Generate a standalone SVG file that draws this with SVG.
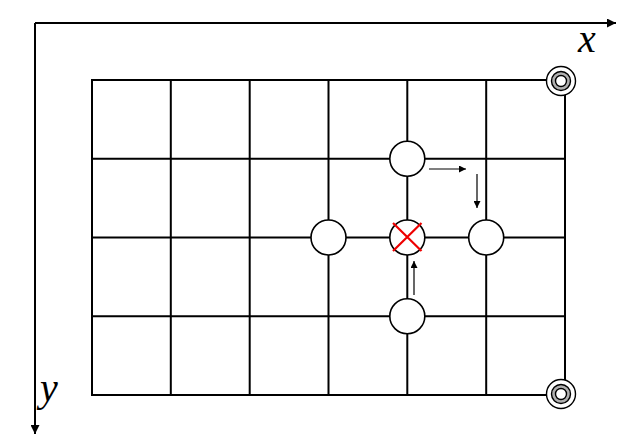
<svg xmlns="http://www.w3.org/2000/svg" width="642" height="443" viewBox="0 0 642 443">
<style>
.grid{stroke:#000;stroke-width:2;fill:none}
.axis{stroke:#000;stroke-width:2;fill:none}
.arr{stroke:#000;stroke-width:1.2;fill:none}
.node{fill:#fff;stroke:#000;stroke-width:1.6}
.lbl{font-family:"Liberation Serif","DejaVu Serif",serif;font-style:italic;font-size:40px;fill:#000}
.tgt-o{fill:#fff;stroke:#000;stroke-width:1.4}
.tgt-m{fill:#b0b0b0;stroke:#000;stroke-width:1.4}
</style>
<defs>
<marker id="ah" viewBox="0 0 10 10" refX="10" refY="5" markerWidth="8" markerHeight="7" markerUnits="userSpaceOnUse" orient="auto"><path d="M0,0 L10,5 L0,10 Z" fill="#000"/></marker>
<marker id="axh" viewBox="0 0 10 10" refX="10" refY="5" markerWidth="10" markerHeight="9" markerUnits="userSpaceOnUse" orient="auto"><path d="M0,0 L10,5 L0,10 Z" fill="#000"/></marker>
</defs>
<g id="axes">
<path class="axis" d="M35,23 H616" marker-end="url(#axh)"/>
<path class="axis" d="M35,23 V434" marker-end="url(#axh)"/>
<text class="lbl" x="578" y="52">x</text>
<text class="lbl" x="40" y="401">y</text>
</g>
<g id="grid">
<rect class="grid" x="92" y="80" width="473" height="315"/>
<path class="grid" d="M170.8,80V395M249.7,80V395M328.5,80V395M407.3,80V395M486.2,80V395M92,158.75H565M92,237.5H565M92,316.25H565"/>
</g>
<g id="connectors">
<path class="arr" d="M429,169 H466" marker-end="url(#ah)"/>
<path class="arr" d="M477,174 V208" marker-end="url(#ah)"/>
<path class="arr" d="M414,295 V261" marker-end="url(#ah)"/>
</g>
<g id="n1"><circle class="node" cx="407.3" cy="158.75" r="17.5"/></g>
<g id="n2"><circle class="node" cx="328.5" cy="237.5" r="17.5"/></g>
<g id="n3"><circle class="node" cx="486.2" cy="237.5" r="17.5"/></g>
<g id="n4"><circle class="node" cx="407.3" cy="316.25" r="17.5"/></g>
<g id="n5"><circle class="node" cx="407.3" cy="237.5" r="17.5"/>
<path d="M393,223 L421.5,251 M421.5,223 L393,251" stroke="#e00" stroke-width="2.2" fill="none"/></g>
<g id="t1"><circle class="tgt-o" cx="561" cy="81" r="14.5"/><circle class="tgt-m" cx="561" cy="81" r="9.5"/><circle class="tgt-o" cx="561" cy="81" r="5.5"/></g>
<g id="t2"><circle class="tgt-o" cx="561" cy="394" r="14.5"/><circle class="tgt-m" cx="561" cy="394" r="9.5"/><circle class="tgt-o" cx="561" cy="394" r="5.5"/></g>
</svg>
